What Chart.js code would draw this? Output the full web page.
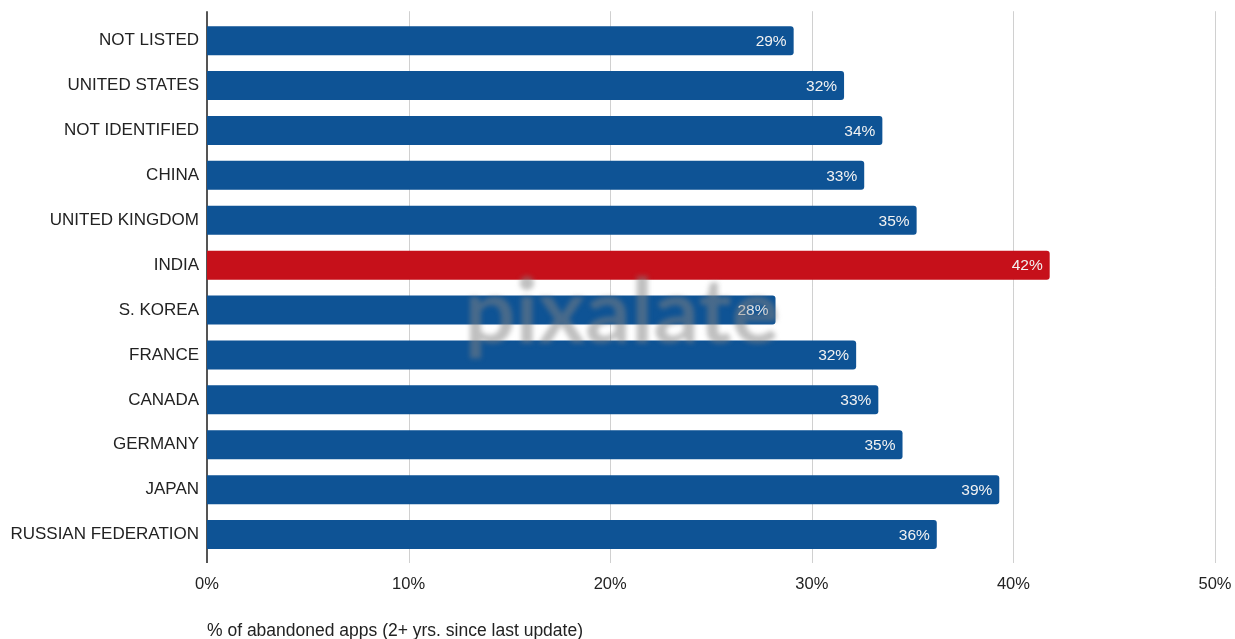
<!DOCTYPE html>
<html>
<head>
<meta charset="utf-8">
<script src="https://cdn.jsdelivr.net/npm/chart.js@4/dist/chart.umd.min.js"></script>
<style>
	html, body { margin: 0; padding: 0; background: #fff; }
	#wrap { width: 1235px; height: 639px; }
</style>
</head>
<body>
<div id="wrap"><canvas id="myChart"></canvas></div>
<script>
var paises = ["NOT LISTED", "UNITED STATES", "NOT IDENTIFIED", "CHINA", "UNITED KINGDOM", "INDIA",
	"S. KOREA", "FRANCE", "CANADA", "GERMANY", "JAPAN", "RUSSIAN FEDERATION"];
var abandonadas = [29.1, 31.6, 33.5, 32.6, 35.2, 41.8, 28.2, 32.2, 33.3, 34.5, 39.3, 36.2];
var ticksX = [0, 10, 20, 30, 40, 50];

var azul = "#0e5395";
var rojo = "#c6101a";
var colores = paises.map(function(p){ return p == "INDIA" ? rojo : azul; });
var fuente = "'Liberation Sans', Arial, sans-serif";

// grid lines + axis line, a bit taller than the bar area
var gridPlugin = {
	id: 'gridExtra',
	beforeDatasetsDraw: function(chart){
		var c = chart.ctx, a = chart.chartArea, x = chart.scales.x;
		c.save();
		c.strokeStyle = "#d0d0d0";
		c.lineWidth = 1;
		ticksX.forEach(function(t){
			if (t == 0) return;
			var px = Math.round(x.getPixelForValue(t)) + 0.5;
			c.beginPath();
			c.moveTo(px, a.top - 7);
			c.lineTo(px, a.bottom + 6);
			c.stroke();
		});
		c.strokeStyle = "#555";
		c.lineWidth = 2;
		var p0 = x.getPixelForValue(0);
		c.beginPath();
		c.moveTo(p0, a.top - 7);
		c.lineTo(p0, a.bottom + 6);
		c.stroke();
		c.restore();
	}
};

// value labels inside the bars + watermark
var labelPlugin = {
	id: 'barLabels',
	afterDatasetsDraw: function(chart){
		var c = chart.ctx;
		var meta = chart.getDatasetMeta(0);
		c.save();
		c.font = "15.5px " + fuente;
		c.fillStyle = "#f2f2f2";
		c.textAlign = "right";
		c.textBaseline = "middle";
		meta.data.forEach(function(bar, i){
			c.fillText(Math.round(abandonadas[i]) + "%", bar.x - 7, bar.y + 1);
		});
		c.restore();

		c.save();
		c.filter = "blur(2.5px)";
		c.font = "bold 90px Lato, 'Open Sans', sans-serif";
		c.fillStyle = "rgba(130,130,130,0.5)";
		c.textAlign = "center";
		c.textBaseline = "alphabetic";
		c.fillText("pixalate", 622, 343);
		c.restore();
	}
};

var ctx = document.getElementById("myChart");
var myChart = new Chart(ctx, {
	type: 'bar',
	data: {
		labels: paises,
		datasets: [{
			data: abandonadas,
			backgroundColor: colores,
			borderRadius: 3,
			borderSkipped: 'start',
			barPercentage: 0.645,
			categoryPercentage: 1
		}]
	},
	options: {
		indexAxis: 'y',
		responsive: true,
		maintainAspectRatio: false,
		animation: { duration: 0 },
		layout: { padding: { top: 17, right: 20, left: 0, bottom: 0 } },
		plugins: {
			legend: { display: false },
			tooltip: { enabled: false }
		},
		scales: {
			x: {
				min: 0,
				max: 50,
				afterBuildTicks: function(scale){
					scale.ticks = ticksX.map(function(v){ return { value: v }; });
				},
				afterFit: function(scale){
					scale.height = 82;
					scale.paddingLeft = 0;
					scale.paddingRight = 0;
				},
				grid: { display: false, drawTicks: false },
				border: { display: false },
				ticks: {
					padding: 18,
					color: "#222",
					font: { family: fuente, size: 16.5 },
					callback: function(v){ return v + "%"; }
				},
				title: {
					display: true,
					align: 'start',
					text: "% of abandoned apps (2+ yrs. since last update)",
					color: "#222",
					font: { family: fuente, size: 17.5, lineHeight: 1 },
					padding: { top: 0, bottom: -1 }
				}
			},
			y: {
				afterFit: function(scale){ scale.width = 207; },
				grid: { display: false, drawTicks: false },
				border: { display: false },
				ticks: {
					padding: 8,
					color: "#222",
					font: { family: fuente, size: 17 }
				}
			}
		}
	},
	plugins: [gridPlugin, labelPlugin]
});
</script>
</body>
</html>
